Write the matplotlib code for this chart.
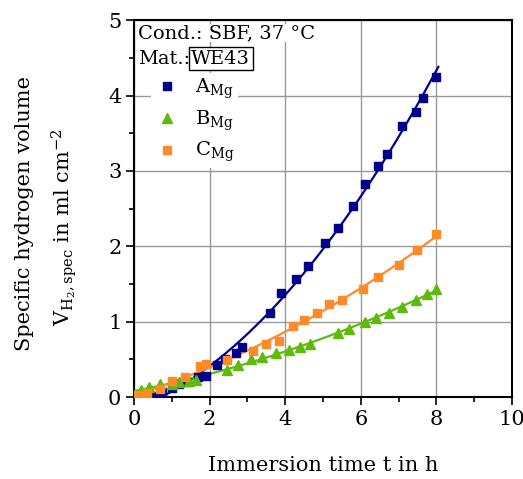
import numpy as np
import matplotlib
matplotlib.use("Agg")
import matplotlib.pyplot as plt
from matplotlib.ticker import MultipleLocator

plt.rcParams['font.family'] = ['DejaVu Serif']
plt.rcParams['mathtext.fontset'] = 'dejavuserif'
plt.rcParams['font.size'] = 15

# sample A_Mg
t_A = [0.5, 0.75, 1.0, 1.2, 1.4, 1.7, 1.9, 2.2, 2.4, 2.7, 2.85, 3.6, 3.9, 4.3, 4.6,
       5.05, 5.4, 5.8, 6.1, 6.45, 6.7, 7.1, 7.45, 7.65, 8.0]
v_A = [0.02, 0.07, 0.12, 0.17, 0.20, 0.27, 0.28, 0.42, 0.51, 0.58, 0.66, 1.12, 1.38, 1.57, 1.74,
       2.04, 2.24, 2.54, 2.82, 3.06, 3.22, 3.59, 3.78, 3.97, 4.25]

# sample B_Mg
t_B = [0.2, 0.4, 0.7, 1.0, 1.2, 1.45, 1.65, 2.45, 2.75, 3.1, 3.4, 3.75, 4.1, 4.4, 4.65,
       5.4, 5.7, 6.1, 6.4, 6.75, 7.1, 7.45, 7.75, 8.0]
v_B = [0.09, 0.13, 0.17, 0.18, 0.20, 0.22, 0.23, 0.36, 0.43, 0.50, 0.53, 0.58, 0.63, 0.66, 0.70,
       0.85, 0.90, 0.99, 1.05, 1.11, 1.20, 1.29, 1.37, 1.43]

# sample C_Mg
t_C = [0.1, 0.35, 0.7, 1.0, 1.35, 1.75, 1.9, 2.45, 3.15, 3.5, 3.85, 4.2, 4.5, 4.85,
       5.15, 5.5, 6.05, 6.45, 7.0, 7.5, 8.0]
v_C = [0.03, 0.06, 0.11, 0.22, 0.26, 0.41, 0.44, 0.49, 0.61, 0.70, 0.75, 0.94, 1.02, 1.11,
       1.24, 1.29, 1.43, 1.59, 1.75, 1.95, 2.16]

col_A = '#00008B'
col_B = '#5EBB0C'
col_C = '#FF8A2A'

fig = plt.figure(figsize=(5.23, 4.79), dpi=100)
ax = fig.add_axes([0.256, 0.171, 0.723, 0.787])

tt = np.linspace(0, 8.05, 200)
for t, v, c in [(t_A, v_A, col_A), (t_B, v_B, col_B), (t_C, v_C, col_C)]:
    p = np.polyfit(t, v, 2)
    ax.plot(tt, np.polyval(p, tt), color=c, lw=1.6, zorder=3)

ax.plot(t_A, v_A, 's', color=col_A, ms=6, label=r'A$_{\mathrm{Mg}}$', zorder=4)
ax.plot(t_B, v_B, '^', color=col_B, ms=7, label=r'B$_{\mathrm{Mg}}$', zorder=4)
ax.plot(t_C, v_C, 's', color=col_C, ms=6, label=r'C$_{\mathrm{Mg}}$', zorder=4)

ax.set_xlim(0, 10)
ax.set_ylim(0, 5)
ax.xaxis.set_major_locator(MultipleLocator(2))
ax.xaxis.set_minor_locator(MultipleLocator(1))
ax.yaxis.set_major_locator(MultipleLocator(1))
ax.yaxis.set_minor_locator(MultipleLocator(0.5))
ax.tick_params(which='major', direction='out', length=6, width=1.2, pad=3)
ax.tick_params(which='minor', direction='out', length=3.5, width=1.2)
ax.grid(True, which='major', color='#999999', lw=1)
ax.set_axisbelow(True)
for s in ax.spines.values():
    s.set_linewidth(1.5)

ax.set_xlabel('Immersion time t in h', labelpad=20)
fig.text(0.046, 0.555, 'Specific hydrogen volume', rotation=90, ha='center', va='center')
fig.text(0.122, 0.525, r'V$_{\mathrm{H_2,spec}}$ in ml cm$^{-2}$', rotation=90,
         ha='center', va='center')

ax.text(0.01, 0.99, 'Cond.: SBF, 37 °C', transform=ax.transAxes, va='top', ha='left',
        fontsize=14, bbox=dict(fc='white', ec='none', pad=0))
ax.text(0.01, 0.922, 'Mat.:', transform=ax.transAxes, va='top', ha='left', fontsize=14)
ax.text(0.152, 0.922, 'WE43', transform=ax.transAxes, va='top', ha='left', fontsize=14,
        bbox=dict(fc='white', ec='black', lw=1, pad=1.5))

ax.legend(loc='upper left', bbox_to_anchor=(0.02, 0.885), frameon=True, facecolor='white',
          edgecolor='none', framealpha=1, handlelength=1.2, handletextpad=0.85,
          labelspacing=0.38, borderpad=0.2, fontsize=14)

fig.savefig('out.png', dpi=100)
